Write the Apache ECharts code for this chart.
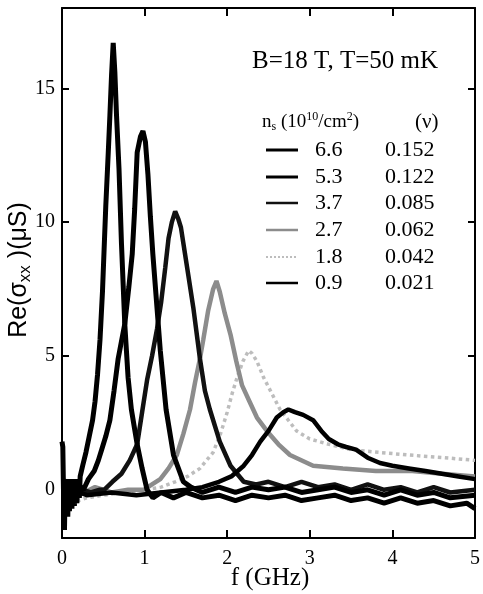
<!DOCTYPE html>
<html><head><meta charset="utf-8">
<script src="https://cdn.jsdelivr.net/npm/echarts@6/dist/echarts.min.js"></script>
<style>html,body{margin:0;padding:0;background:#fff}#c{width:483px;height:594px}</style>
</head><body><div id="c"></div>
<script>
// ---- data (f in GHz, Re(sigma_xx) in uS) ----
var densities = ['6.6','5.3','3.7','2.7','1.8','0.9'];
var fillings  = ['0.152','0.122','0.085','0.062','0.042','0.021'];
var xTicks = [0,1,2,3,4,5];
var yTicks = [0,5,10,15];

var s66 = [[0.00,1.8],[0.01,1.6],[0.02,-0.4],[0.03,-1.5],[0.04,0.4],[0.05,-0.9],[0.06,0.3],[0.07,-1.0],[0.08,0.4],[0.09,-0.8],[0.10,0.3],[0.12,-0.7],[0.13,0.4],[0.15,-0.6],[0.16,0.3],[0.18,-0.5],[0.19,0.4],[0.21,-0.3],[0.22,0.5],[0.25,0.9],[0.29,1.4],[0.33,2.0],[0.37,2.6],[0.40,3.3],[0.43,4.3],[0.46,5.6],[0.49,7.4],[0.51,9.0],[0.53,10.6],[0.56,12.6],[0.58,14.0],[0.60,15.5],[0.62,16.7],[0.64,15.6],[0.66,14.0],[0.69,12.0],[0.72,9.2],[0.76,6.2],[0.80,4.2],[0.84,3.0],[0.91,1.7],[0.97,0.8],[1.03,0.0],[1.10,-0.3],[1.20,-0.1],[1.35,-0.3],[1.50,-0.1],[1.70,-0.3],[1.90,-0.2],[2.10,-0.4],[2.30,-0.2],[2.50,-0.3],[2.70,-0.2],[2.90,-0.4],[3.10,-0.3],[3.30,-0.2],[3.50,-0.4],[3.70,-0.3],[3.90,-0.5],[4.10,-0.3],[4.30,-0.5],[4.50,-0.4],[4.70,-0.6],[4.90,-0.5],[5.00,-0.7]];
var s53 = [[0.02,0.4],[0.06,-0.5],[0.10,0.1],[0.15,-0.3],[0.20,0.2],[0.26,0.0],[0.32,0.4],[0.39,0.7],[0.44,1.1],[0.48,1.5],[0.53,2.0],[0.58,2.6],[0.63,3.7],[0.68,4.9],[0.76,6.2],[0.81,7.6],[0.85,8.8],[0.88,10.5],[0.91,12.6],[0.95,13.2],[0.98,13.4],[1.01,13.0],[1.04,11.8],[1.07,10.2],[1.10,8.8],[1.15,6.8],[1.19,5.2],[1.26,3.0],[1.35,1.3],[1.47,0.3],[1.56,0.1],[1.70,-0.1],[1.90,0.1],[2.10,-0.1],[2.30,0.1],[2.50,0.0],[2.70,0.1],[2.90,-0.1],[3.10,0.0],[3.30,0.1],[3.50,-0.1],[3.70,0.0],[3.90,-0.2],[4.10,0.0],[4.30,-0.2],[4.50,-0.1],[4.70,-0.3],[5.00,-0.2]];
var s37 = [[0.05,-0.2],[0.15,-0.1],[0.25,0.0],[0.35,-0.1],[0.45,0.0],[0.51,0.0],[0.61,0.3],[0.72,0.6],[0.82,1.1],[0.91,1.7],[0.97,2.9],[1.03,4.1],[1.09,5.0],[1.15,6.0],[1.20,7.0],[1.25,8.3],[1.29,9.4],[1.33,10.0],[1.37,10.4],[1.41,10.1],[1.44,9.8],[1.47,9.2],[1.53,8.0],[1.59,6.8],[1.67,4.9],[1.73,3.7],[1.79,3.0],[1.91,1.8],[2.04,0.9],[2.20,0.3],[2.35,0.2],[2.50,0.3],[2.70,0.1],[2.90,0.3],[3.10,0.1],[3.30,0.2],[3.50,0.0],[3.70,0.2],[3.90,0.0],[4.10,0.1],[4.30,-0.1],[4.50,0.1],[4.70,-0.1],[5.00,0.0]];
var s27 = [[0.05,-0.3],[0.20,-0.2],[0.40,0.1],[0.60,-0.1],[0.80,0.0],[0.99,0.0],[1.09,0.2],[1.19,0.4],[1.29,0.8],[1.39,1.3],[1.47,2.1],[1.55,3.0],[1.61,4.0],[1.67,4.9],[1.71,5.6],[1.77,6.7],[1.83,7.5],[1.87,7.8],[1.91,7.4],[1.97,6.6],[2.04,5.8],[2.11,4.8],[2.18,3.9],[2.27,3.3],[2.36,2.7],[2.48,2.2],[2.62,1.7],[2.76,1.3],[3.04,0.9],[3.40,0.8],[3.80,0.7],[4.24,0.7],[4.60,0.6],[5.00,0.5]];
var s18 = [[0.10,-0.5],[0.30,-0.3],[0.50,-0.2],[0.77,-0.1],[1.00,0.0],[1.20,0.1],[1.37,0.3],[1.52,0.5],[1.67,0.8],[1.83,1.4],[1.92,2.1],[2.00,2.9],[2.06,3.6],[2.12,4.2],[2.19,4.8],[2.26,5.2],[2.30,5.1],[2.36,4.8],[2.44,4.2],[2.54,3.6],[2.64,3.0],[2.74,2.6],[2.84,2.2],[3.00,1.9],[3.23,1.7],[3.50,1.5],[3.83,1.4],[4.20,1.3],[4.63,1.2],[5.00,1.1]];
var s09 = [[0.05,0.1],[0.30,-0.2],[0.60,-0.1],[0.90,-0.2],[1.20,-0.1],[1.50,0.0],[1.70,0.1],[1.90,0.3],[2.05,0.5],[2.20,0.9],[2.30,1.3],[2.40,1.8],[2.50,2.2],[2.60,2.7],[2.68,2.9],[2.74,3.0],[2.82,2.9],[2.92,2.8],[3.04,2.6],[3.14,2.2],[3.23,1.9],[3.34,1.7],[3.44,1.6],[3.56,1.5],[3.70,1.2],[3.85,1.0],[4.00,0.9],[4.20,0.8],[4.40,0.7],[4.60,0.6],[4.80,0.5],[5.00,0.4]];

var seriesData = [s66, s53, s37, s27, s18, s09];
var styles = [
  {color:'#000', width:5, type:'solid', z:6},
  {color:'#000', width:5, type:'solid', z:5},
  {color:'#111', width:4.5, type:'solid', z:4},
  {color:'#8c8c8c', width:4.5, type:'solid', z:3},
  {color:'#bdbdbd', width:3.5, type:'dotted', z:2},
  {color:'#000', width:4.5, type:'solid', z:7}
];

var chart = echarts.init(document.getElementById('c'));
var serif = 'Liberation Serif';
var series = seriesData.map(function(d,i){
  return {type:'line', data:d, showSymbol:false, silent:true, z:styles[i].z,
    lineStyle:{color:styles[i].color, width:styles[i].width, type:styles[i].type}};
});

var graphics = [
  {type:'text', x:252, y:61, style:{text:'B=18 T, T=50 mK', font:'25px "Liberation Serif"', fill:'#000', verticalAlign:'middle'}},
  {type:'text', x:262, y:122, style:{text:'{a|n}{s|s}{a| (10}{p|10}{a|/cm}{p|2}{a|)}', verticalAlign:'middle',
    rich:{a:{fontFamily:serif, fontSize:19, fill:'#000'}, s:{fontFamily:serif, fontSize:12, padding:[10,0,0,0]}, p:{fontFamily:serif, fontSize:12, padding:[0,0,10,0]}}}},
  {type:'text', x:415, y:122, style:{text:'(ν)', font:'21px "Liberation Serif"', fill:'#000', verticalAlign:'middle'}},
  {type:'text', x:19, y:270, rotation:Math.PI/2, style:{text:'{a|Re(σ}{b|xx}{a| )(μS)}', align:'center', verticalAlign:'middle',
    rich:{a:{fontFamily:'Liberation Sans', fontSize:25, fill:'#000'}, b:{fontFamily:'Liberation Sans', fontSize:17, padding:[12,0,0,0]}}}},
  {type:'text', x:270, y:578, style:{text:'f (GHz)', font:'25px "Liberation Serif"', fill:'#000', align:'center', verticalAlign:'middle'}}
];
var rowY = [150,177,203,230,257,283];
densities.forEach(function(n,i){
  var st = styles[i];
  graphics.push({type:'line', shape:{x1:266, y1:rowY[i], x2:298, y2:rowY[i]},
    style:{stroke:st.color, lineWidth:Math.max(2, st.width-2), lineDash: st.type==='dotted'?[2,2]:null}});
  graphics.push({type:'text', x:315, y:rowY[i], style:{text:n, font:'22px "Liberation Serif"', fill:'#000', verticalAlign:'middle'}});
  graphics.push({type:'text', x:385, y:rowY[i], style:{text:fillings[i], font:'22px "Liberation Serif"', fill:'#000', verticalAlign:'middle'}});
});

var tickStyle = {show:true, inside:true, length:8, lineStyle:{color:'#000', width:2}};
chart.setOption({
  backgroundColor:'#fff',
  animation:false,
  grid:{left:62, right:3, top:8, bottom:56, show:false},
  xAxis:[
    {type:'value', position:'bottom', min:0, max:5, interval:1,
     axisLine:{show:true, onZero:false, lineStyle:{color:'#000', width:2}},
     axisTick:tickStyle, splitLine:{show:false},
     axisLabel:{show:true, margin:11, fontFamily:serif, fontSize:20, color:'#000',
       customValues:xTicks}},
    {type:'value', position:'top', min:0, max:5, interval:1,
     axisLine:{show:true, onZero:false, lineStyle:{color:'#000', width:2}},
     axisTick:tickStyle, axisLabel:{show:false}, splitLine:{show:false}}
  ],
  yAxis:[
    {type:'value', position:'left', min:-1.8, max:18,
     axisLine:{show:true, onZero:false, lineStyle:{color:'#000', width:2}},
     axisTick:{show:true, inside:true, length:7, lineStyle:{color:'#000', width:2}, customValues:yTicks},
     axisLabel:{show:true, margin:7, fontFamily:serif, fontSize:20, color:'#000', customValues:yTicks},
     splitLine:{show:false}},
    {type:'value', position:'right', min:-1.8, max:18,
     axisLine:{show:true, onZero:false, lineStyle:{color:'#000', width:2}},
     axisTick:{show:true, inside:true, length:7, lineStyle:{color:'#000', width:2}, customValues:yTicks},
     axisLabel:{show:false}, splitLine:{show:false}}
  ],
  series:series,
  graphic:graphics
});
</script></body></html>
